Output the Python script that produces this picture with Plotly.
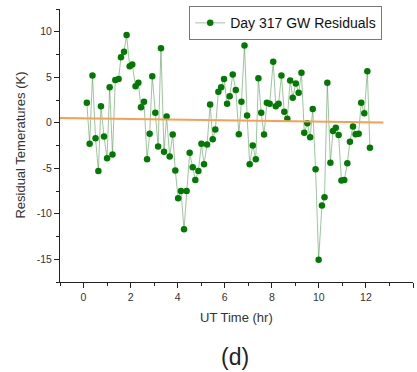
import plotly.graph_objects as go

ut_time = [0.14, 0.26, 0.38, 0.51, 0.63, 0.74, 0.87, 1.00, 1.11, 1.23, 1.35, 1.49, 1.59, 1.72, 1.83,
           1.96, 2.07, 2.21, 2.33, 2.44, 2.57, 2.70, 2.81, 2.92, 3.05, 3.17, 3.29, 3.42, 3.53, 3.66,
           3.79, 3.90, 4.02, 4.14, 4.27, 4.38, 4.51, 4.64, 4.75, 4.88, 5.01, 5.12, 5.25, 5.38, 5.49,
           5.60, 5.73, 5.85, 5.97, 6.10, 6.21, 6.34, 6.47, 6.60, 6.71, 6.84, 6.95, 7.06, 7.19, 7.32,
           7.43, 7.55, 7.67, 7.79, 7.91, 8.06, 8.17, 8.29, 8.41, 8.53, 8.66, 8.78, 8.89, 9.02, 9.14,
           9.26, 9.38, 9.51, 9.63, 9.74, 9.86, 9.99, 10.13, 10.24, 10.36, 10.49, 10.60, 10.72, 10.84,
           10.96, 11.08, 11.21, 11.32, 11.45, 11.56, 11.69, 11.80, 11.93, 12.06, 12.17]
residuals = [2.2, -2.3, 5.2, -1.7, -5.3, 1.8, -1.5, -3.9, 3.9, -3.5, 4.7, 4.8, 7.2, 7.8, 9.65,
             6.2, 6.4, 4.0, 4.4, 1.7, 2.3, -4.0, -1.2, 5.1, 1.1, -2.6, 8.2, -3.2, 0.7, -3.7,
             -1.3, -5.25, -8.3, -7.5, -11.7, -7.5, -3.3, -4.9, -6.3, -5.3, -2.3, -4.55, -2.4, 2.0, -1.8,
             -0.75, 3.4, 3.9, 4.8, 2.1, 2.9, 5.3, 3.6, -1.25, 2.3, 8.5, 0.8, -4.55, -2.5, -4.0,
             4.9, 1.1, -1.3, 2.2, 2.1, 6.7, 1.8, 2.1, 5.2, 1.2, 0.45, 4.65, 2.75, 4.3, 3.3,
             5.5, -1.1, -0.05, -1.6, 1.5, -5.1, -15.05, -9.1, -8.2, 4.4, -4.4, -0.9, -0.55, -1.35,
             -6.35, -6.3, -4.45, -2.1, -0.4, -1.25, -1.2, 2.2, 1.05, 5.65, -2.75]

fit_x = [-1.0, 12.74]
fit_y = [0.52, 0.03]

x_ticks = [0, 2, 4, 6, 8, 10, 12, 14]
y_ticks = [-15, -10, -5, 0, 5, 10]

FONT = "Arial, Liberation Sans, sans-serif"

fig = go.Figure()
fig.add_trace(go.Scatter(
    x=ut_time, y=residuals, mode="lines+markers", name="Day 317 GW Residuals",
    line=dict(color="rgba(60,140,60,0.5)", width=1),
    marker=dict(color="#007a00", size=6.5),
))
fig.add_trace(go.Scatter(
    x=fit_x, y=fit_y, mode="lines", showlegend=False,
    line=dict(color="#f7a055", width=2.2),
))

axis_common = dict(
    showgrid=False, zeroline=False, showline=True, linecolor="#222", linewidth=1,
    ticks="outside", ticklen=5, tickcolor="#222", tickwidth=1,
    tickfont=dict(family=FONT, size=10.5, color="#333"),
)
fig.update_xaxes(range=[-1, 14], tickvals=x_ticks, ticktext=[str(v) for v in x_ticks],
                 minor=dict(dtick=1, tick0=-1, ticks="outside", ticklen=3, tickcolor="#222"),
                 **axis_common)
fig.update_yaxes(range=[-17.5, 12.5], tickvals=y_ticks, ticktext=[str(v) for v in y_ticks],
                 minor=dict(dtick=2.5, tick0=0, ticks="outside", ticklen=3, tickcolor="#222"),
                 **axis_common)

fig.add_annotation(text="UT Time (hr)", xref="paper", yref="paper", x=0.5, y=-0.095,
                   xanchor="center", yanchor="top", showarrow=False,
                   font=dict(family=FONT, size=13, color="#333"))
fig.add_annotation(text="Residual Temeratures (K)", xref="paper", yref="paper", x=-0.113, y=0.5,
                   textangle=-90, xanchor="center", yanchor="middle", showarrow=False,
                   font=dict(family=FONT, size=13, color="#333"))
fig.add_annotation(text="(d)", xref="paper", yref="paper", x=0.495, y=-0.22,
                   xanchor="center", yanchor="top", showarrow=False,
                   font=dict(family=FONT, size=23, color="#222"))

fig.update_layout(
    width=417, height=372,
    margin=dict(l=60, r=4, t=9, b=90),
    paper_bgcolor="white", plot_bgcolor="white",
    showlegend=True,
    legend=dict(x=0.366, y=1.01, xanchor="left", yanchor="top",
                bgcolor="white", bordercolor="#777", borderwidth=1,
                font=dict(family=FONT, size=14, color="#111"),
                tracegroupgap=0, itemwidth=30),
)

fig.write_html("out.html")
